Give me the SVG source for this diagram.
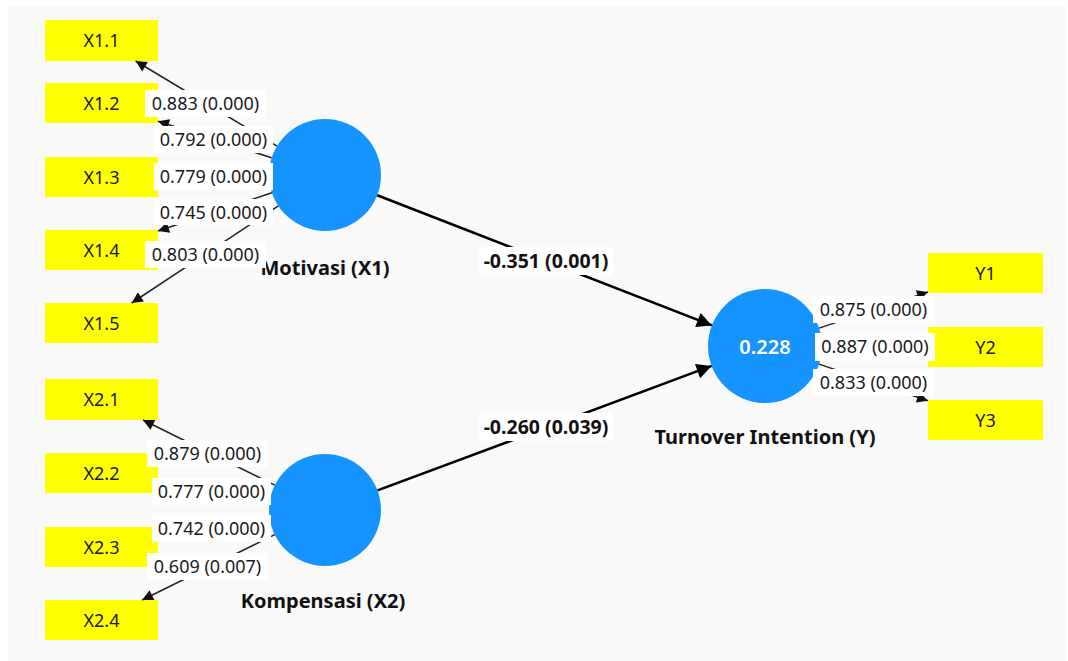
<svg xmlns="http://www.w3.org/2000/svg" width="1068" height="661" viewBox="0 0 1068 661">
<style>
.ind rect{fill:#ffff00}
.ind text{font-family:"Noto Sans","Liberation Sans",sans-serif;font-size:18px;fill:#1a1a1a;text-anchor:middle}
.lat circle{fill:#1593ff}
.lname{font-family:"Noto Sans","Liberation Sans",sans-serif;font-size:20px;font-weight:bold;fill:#111;text-anchor:middle}
.r2{font-family:"Noto Sans","Liberation Sans",sans-serif;font-size:20px;font-weight:600;fill:#fff;text-anchor:middle}
.ld{stroke:#222;stroke-width:1.5;fill:none}
.st{stroke:#000;stroke-width:2.6;fill:none}
.lb rect{fill:#fff}
.lb text{font-family:"Noto Sans","Liberation Sans",sans-serif;font-size:18px;fill:#1a1a1a;text-anchor:middle}
.sb text{font-family:"Noto Sans","Liberation Sans",sans-serif;font-size:19.5px;font-weight:bold;fill:#111;text-anchor:middle}
</style>
<defs>
<marker id="as" viewBox="0 0 10 10" refX="10" refY="5" markerUnits="userSpaceOnUse" markerWidth="20" markerHeight="15" orient="auto"><path d="M0,0 L10,5 L0,10 z" fill="#000"/></marker>
<marker id="al" viewBox="0 0 10 10" refX="10" refY="5" markerUnits="userSpaceOnUse" markerWidth="13" markerHeight="11" orient="auto"><path d="M0,0 L10,5 L0,10 z" fill="#111"/></marker>
</defs>
<rect x="0" y="0" width="1068" height="661" fill="#ffffff"/>
<rect x="8" y="6" width="1057" height="655" fill="#f9f9f9"/>

<g id="X1.1" class="ind"><rect x="45" y="20" width="113" height="41"/><text x="101.5" y="47">X1.1</text></g>
<g id="X1.2" class="ind"><rect x="45" y="83" width="113" height="40"/><text x="101.5" y="109.5">X1.2</text></g>
<g id="X1.3" class="ind"><rect x="45" y="157" width="113" height="40"/><text x="101.5" y="183.5">X1.3</text></g>
<g id="X1.4" class="ind"><rect x="45" y="230" width="113" height="40"/><text x="101.5" y="256.5">X1.4</text></g>
<g id="X1.5" class="ind"><rect x="45" y="303" width="113" height="40"/><text x="101.5" y="329.5">X1.5</text></g>
<g id="X2.1" class="ind"><rect x="45" y="379" width="113" height="41"/><text x="101.5" y="406">X2.1</text></g>
<g id="X2.2" class="ind"><rect x="45" y="453" width="113" height="40"/><text x="101.5" y="479.5">X2.2</text></g>
<g id="X2.3" class="ind"><rect x="45" y="527" width="113" height="40"/><text x="101.5" y="553.5">X2.3</text></g>
<g id="X2.4" class="ind"><rect x="45" y="600" width="113" height="40"/><text x="101.5" y="626.5">X2.4</text></g>
<g id="Y1" class="ind"><rect x="928" y="253" width="115" height="40"/><text x="985.5" y="279.5">Y1</text></g>
<g id="Y2" class="ind"><rect x="928" y="327" width="115" height="40"/><text x="985.5" y="353.5">Y2</text></g>
<g id="Y3" class="ind"><rect x="928" y="400" width="115" height="40"/><text x="985.5" y="426.5">Y3</text></g>

<g id="Motivasi" class="lat"><circle cx="325" cy="175" r="56"/><text class="lname" x="325" y="275">Motivasi (X1)</text></g>
<g id="Kompensasi" class="lat"><circle cx="325" cy="510" r="56"/><text class="lname" x="323" y="608">Kompensasi (X2)</text></g>
<g id="TurnoverIntention" class="lat"><circle cx="765" cy="346" r="57"/><text class="r2" x="765" y="353.5">0.228</text><text class="lname" x="765" y="444">Turnover Intention (Y)</text></g>

<g id="connectors">
<path class="ld" marker-end="url(#al)" d="M277,146.1 L135.6,61"/>
<path class="ld" marker-end="url(#al)" d="M271.7,157.8 L158,121.2"/>
<path class="ld" marker-end="url(#al)" d="M269,175.5 L158,176.5"/>
<path class="ld" marker-end="url(#al)" d="M271.9,192.8 L158,231"/>
<path class="ld" marker-end="url(#al)" d="M278.3,205.9 L131.7,303"/>
<path class="ld" marker-end="url(#al)" d="M274.8,485.2 L143,420"/>
<path class="ld" marker-end="url(#al)" d="M269.7,500.9 L158,482.4"/>
<path class="ld" marker-end="url(#al)" d="M269.7,519.1 L158,537.6"/>
<path class="ld" marker-end="url(#al)" d="M274.8,534.7 L142.1,600"/>
<path class="ld" marker-end="url(#al)" d="M819.1,328.1 L928,292"/>
<path class="ld" marker-end="url(#al)" d="M822,346.3 L928,346.7"/>
<path class="ld" marker-end="url(#al)" d="M819,364.1 L928,400.7"/>
<path class="st" marker-end="url(#as)" d="M377.2,195.3 L711.9,325.4"/>
<path class="st" marker-end="url(#as)" d="M377.5,490.4 L711.6,365.9"/>
</g>

<g id="connector-labels">
<g class="lb"><rect x="145" y="90" width="121" height="27"/><text x="205.5" y="110">0.883 (0.000)</text></g>
<g class="lb"><rect x="154" y="126" width="119" height="27"/><text x="213.5" y="146">0.792 (0.000)</text></g>
<g class="lb"><rect x="154" y="163" width="119" height="27"/><text x="213.5" y="183">0.779 (0.000)</text></g>
<g class="lb"><rect x="154" y="199" width="119" height="26"/><text x="213.5" y="218.5">0.745 (0.000)</text></g>
<g class="lb"><rect x="145" y="241" width="121" height="27"/><text x="205.5" y="261">0.803 (0.000)</text></g>
<g class="lb"><rect x="147" y="440" width="121" height="27"/><text x="207.5" y="460">0.879 (0.000)</text></g>
<g class="lb"><rect x="152" y="478" width="119" height="27"/><text x="211.5" y="498">0.777 (0.000)</text></g>
<g class="lb"><rect x="152" y="515" width="119" height="27"/><text x="211.5" y="535">0.742 (0.000)</text></g>
<g class="lb"><rect x="147" y="553" width="121" height="27"/><text x="207.5" y="573">0.609 (0.007)</text></g>
<g class="lb"><rect x="813" y="296" width="121" height="27"/><text x="873.5" y="316">0.875 (0.000)</text></g>
<g class="lb"><rect x="815" y="333" width="120" height="28"/><text x="875" y="353">0.887 (0.000)</text></g>
<g class="lb"><rect x="813" y="369" width="121" height="27"/><text x="873.5" y="389">0.833 (0.000)</text></g>
<g class="sb"><rect x="479" y="247" width="134" height="28" fill="#fff"/><text x="546" y="268">-0.351 (0.001)</text></g>
<g class="sb"><rect x="479" y="413" width="134" height="28" fill="#fff"/><text x="546" y="434">-0.260 (0.039)</text></g>
</g>
</svg>
